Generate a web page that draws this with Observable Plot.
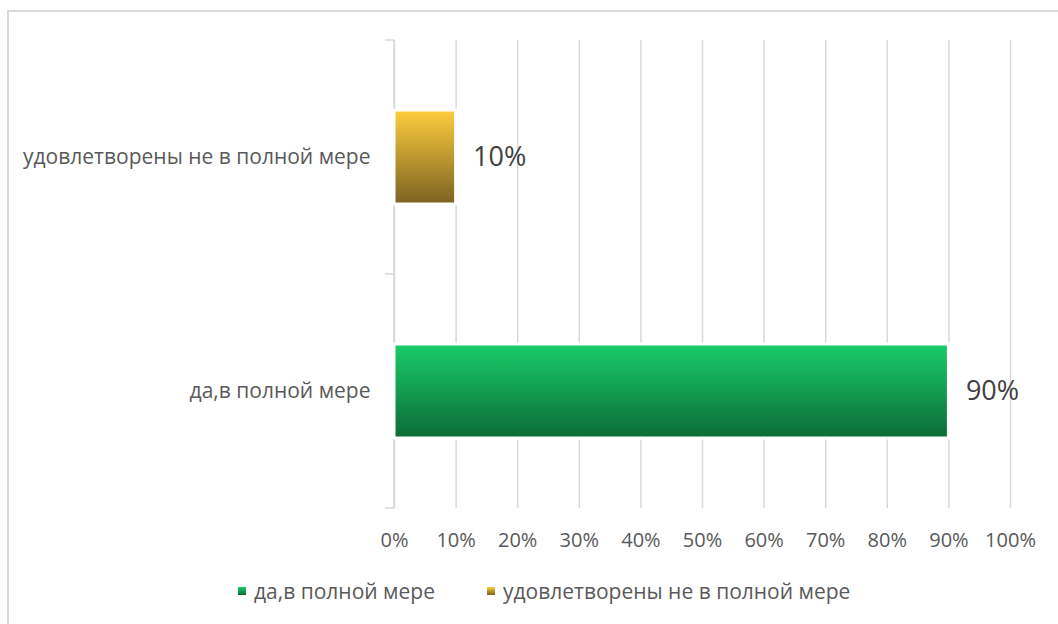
<!DOCTYPE html>
<html>
<head>
<meta charset="utf-8">
<script src="https://cdn.jsdelivr.net/npm/d3@7"></script>
<script src="https://cdn.jsdelivr.net/npm/@observablehq/plot@0.6"></script>
<style>
  body { margin: 0; background: #fff; font-family: "Open Sans", sans-serif; }
  #wrap { position: relative; width: 1058px; height: 624px; overflow: hidden; }
  #frame { position: absolute; left: 7px; top: 10px; width: 1100px; height: 700px; border-left: 2px solid #d9d9d9; border-top: 2px solid #d9d9d9; box-sizing: border-box; }
  #chart { position: absolute; left: 0; top: 0; }
  #legend { position: absolute; top: 577px; left: 238px; display: flex; gap: 52px; font-size: 21px; color: #595959; white-space: nowrap; }
  .item { display: flex; align-items: center; gap: 8px; }
  .sw { width: 8px; height: 8px; display: inline-block; }
</style>
</head>
<body>
<div id="wrap">
  <div id="frame"></div>
  <div id="chart"></div>
  <div id="legend"></div>
</div>
<script>
const categories = ["удовлетворены не в полной мере", "да,в полной мере"];
const values = [0.10, 0.90];
const seriesColors = [
  {top: "#FFCE3D", bottom: "#7A6222", id: "gYellow"},
  {top: "#19CD6A", bottom: "#0C6B36", id: "gGreen"}
];
const xTicks = [0, 0.1, 0.2, 0.3, 0.4, 0.5, 0.6, 0.7, 0.8, 0.9, 1.0];
const legendOrder = [1, 0];

const data = categories.map((c, i) => ({cat: c, value: values[i], fill: `url(#${seriesColors[i].id})`}));

const defsMark = () => {
  const defs = d3.create("svg:defs");
  for (const s of seriesColors) {
    const g = defs.append("linearGradient").attr("id", s.id).attr("x1", 0).attr("y1", 0).attr("x2", 0).attr("y2", 1);
    g.append("stop").attr("offset", "0%").attr("stop-color", s.top);
    g.append("stop").attr("offset", "100%").attr("stop-color", s.bottom);
  }
  return defs.node();
};

const yAxisMark = (index, scales, values, dims) => {
  const g = d3.create("svg:g").attr("stroke", "#d9d9d9").attr("stroke-width", 1.5);
  const x0 = scales.x(0);
  const top = dims.marginTop, bottom = dims.height - dims.marginBottom;
  g.append("line").attr("x1", x0).attr("x2", x0).attr("y1", top).attr("y2", bottom);
  const n = categories.length;
  for (let i = 0; i <= n; i++) {
    const y = top + (bottom - top) * i / n;
    g.append("line").attr("x1", x0 - 9).attr("x2", x0).attr("y1", y).attr("y2", y);
  }
  return g.node();
};

const plot = Plot.plot({
  width: 1058,
  height: 560,
  marginLeft: 394,
  marginRight: 48,
  marginTop: 40,
  marginBottom: 52,
  style: {fontFamily: "Open Sans, sans-serif", fontSize: "20px", color: "#595959", background: "transparent"},
  x: {domain: [0, 1], label: null},
  y: {domain: categories, paddingInner: 0.6, paddingOuter: 0.3, label: null},
  marks: [
    defsMark,
    Plot.gridX(xTicks, {stroke: "#d9d9d9", strokeOpacity: 1, strokeWidth: 1.5}),
    yAxisMark,
    Plot.axisX(xTicks, {tickFormat: d => Math.round(d * 100) + "%", tickSize: 0, tickPadding: 24, fontSize: 20, fill: "#595959"}),
    Plot.axisY({tickSize: 0, tickPadding: 24, fontSize: 21, fill: "#595959"}),
    Plot.barX(data, {x: "value", y: "cat", fill: "fill", stroke: "white", strokeWidth: 3}),
    Plot.text(data, {x: "value", y: "cat", text: d => Math.round(d.value * 100) + "%", textAnchor: "start", dx: 17, fontSize: 27, fill: "#404040"})
  ]
});
document.getElementById("chart").appendChild(plot);

const legend = document.getElementById("legend");
for (const i of legendOrder) {
  const s = seriesColors[i];
  const item = document.createElement("div");
  item.className = "item";
  item.innerHTML = `<span class="sw" style="background:linear-gradient(${s.top}, ${s.bottom})"></span><span>${categories[i]}</span>`;
  legend.appendChild(item);
}
</script>
</body>
</html>
